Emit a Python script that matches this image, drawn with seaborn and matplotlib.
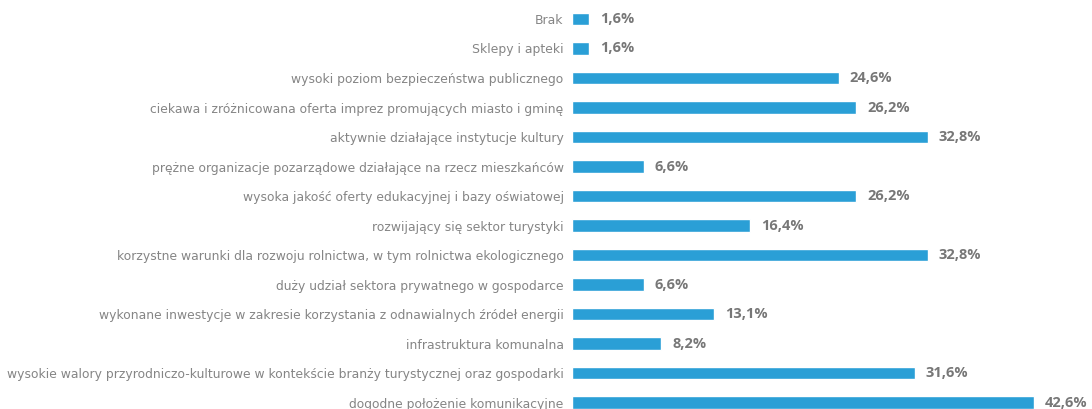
import matplotlib
matplotlib.use("Agg")
import matplotlib.pyplot as plt
import seaborn as sns
import pandas as pd

categories = [
    "Brak",
    "Sklepy i apteki",
    "wysoki poziom bezpieczeństwa publicznego",
    "ciekawa i zróżnicowana oferta imprez promujących miasto i gminę",
    "aktywnie działające instytucje kultury",
    "prężne organizacje pozarządowe działające na rzecz mieszkańców",
    "wysoka jakość oferty edukacyjnej i bazy oświatowej",
    "rozwijający się sektor turystyki",
    "korzystne warunki dla rozwoju rolnictwa, w tym rolnictwa ekologicznego",
    "duży udział sektora prywatnego w gospodarce",
    "wykonane inwestycje w zakresie korzystania z odnawialnych źródeł energii",
    "infrastruktura komunalna",
    "wysokie walory przyrodniczo-kulturowe w kontekście branży turystycznej oraz gospodarki",
    "dogodne położenie komunikacyjne",
]
values = [1.6, 1.6, 24.6, 26.2, 32.8, 6.6, 26.2, 16.4, 32.8, 6.6, 13.1, 8.2, 31.6, 42.6]

df = pd.DataFrame({"kategoria": categories, "procent": values})

sns.set_style("white")
plt.rcParams["font.family"] = ["Open Sans", "DejaVu Sans"]

fig = plt.figure(figsize=(10.92, 4.09), dpi=100)
ax = fig.add_axes([572 / 1092, 0, 1 - 572 / 1092, 1])

sns.barplot(data=df, x="procent", y="kategoria", orient="h", color="#2a9fd6",
            saturation=1, width=0.43, ax=ax)

# etykiety wartości z przecinkiem dziesiętnym
for i, v in enumerate(values):
    ax.annotate(f"{v:.1f}%".replace(".", ","), xy=(v, i), xytext=(8, 0),
                textcoords="offset points", va="center", ha="left",
                fontsize=10.5, fontweight="bold", color="#777777")

ax.set_xlim(0, 47.95)
ax.set_ylim(13.22, -0.644)
ax.set_xlabel("")
ax.set_ylabel("")
ax.set_xticks([])
ax.tick_params(axis="y", length=0, pad=6, labelcolor="#858585")
for lab in ax.get_yticklabels():
    lab.set_fontfamily("DejaVu Sans")
    lab.set_fontsize(8.95)
for s in ax.spines.values():
    s.set_visible(False)

fig.savefig("out.png", dpi=100)
